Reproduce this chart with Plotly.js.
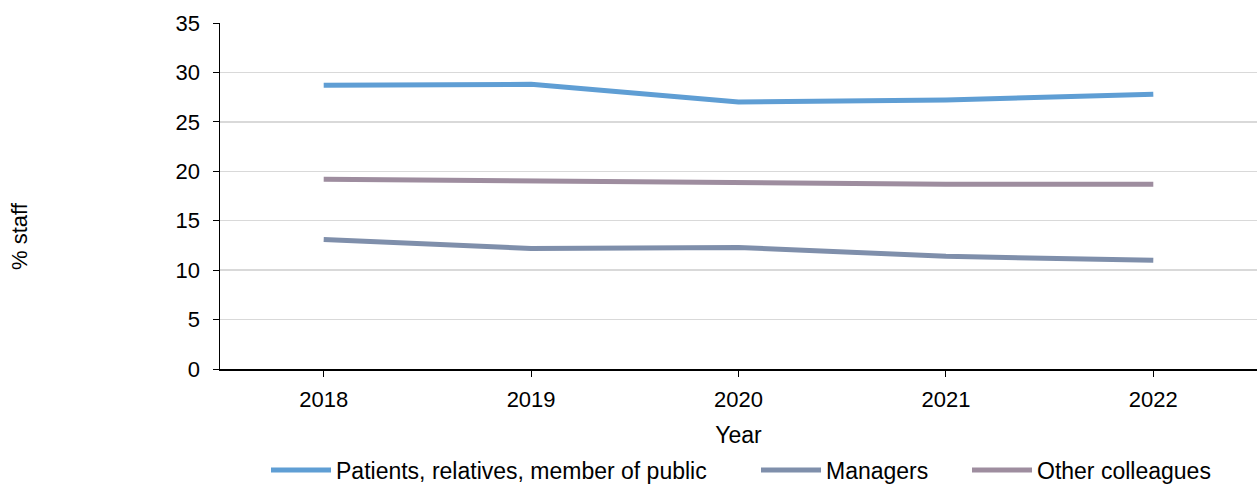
<!DOCTYPE html>
<html>
<head>
<meta charset="utf-8">
<script src="https://cdn.plot.ly/plotly-3.0.1.min.js"></script>
<style>html,body{margin:0;padding:0;background:#fff;}#chart{width:1258px;height:487px;}</style>
</head>
<body>
<div id="chart"></div>
<script>
var years = ["2018", "2019", "2020", "2021", "2022"];
var patients = [28.7, 28.8, 27.0, 27.2, 27.8];
var managers = [13.1, 12.2, 12.3, 11.4, 11.0];
var colleagues = [19.2, 19.0, 18.8, 18.7, 18.7];
var yTicks = [0, 5, 10, 15, 20, 25, 30, 35];

var legendFont = {family: "Liberation Sans, Arial, sans-serif", size: 23, color: "#000"};

function tr(name, y, color, lg) {
  return {x: years, y: y, name: name, type: "scatter", mode: "lines", legend: lg,
    line: {color: color, width: 5, shape: "linear"}};
}

var data = [
  tr("Patients, relatives, member of public", patients, "#5f9ed4", "legend"),
  tr("Managers", managers, "#7f8fab", "legend2"),
  tr("Other colleagues", colleagues, "#9e8d9f", "legend3")
];

function leg(px) {
  return {orientation: "h", xref: "container", x: px / 1258, xanchor: "left",
    yref: "container", y: 17 / 487, yanchor: "middle", font: legendFont, itemwidth: 60,
    bgcolor: "rgba(0,0,0,0)"};
}

var layout = {
  width: 1258, height: 487,
  margin: {l: 220, r: 1, t: 23, b: 118},
  paper_bgcolor: "#fff", plot_bgcolor: "#fff",
  font: {family: "Liberation Sans, Arial, sans-serif", size: 22, color: "#000"},
  showlegend: true,
  legend: leg(266),
  legend2: leg(756),
  legend3: leg(967),
  xaxis: {type: "category", range: [-0.5, 4.5], showgrid: false, automargin: false,
    showline: true, linecolor: "#000", linewidth: 1.5,
    ticks: "outside", ticklen: 6, tickcolor: "#000", ticklabelstandoff: 4,
    tickfont: {size: 22}, zeroline: false,
    title: {text: "Year", font: legendFont, standoff: 28}},
  yaxis: {range: [0, 35], tickvals: yTicks, showgrid: true, gridcolor: "#d9d9d9", gridwidth: 1.5,
    showline: true, linecolor: "#000", linewidth: 1.5, automargin: false,
    ticks: "outside", ticklen: 6, tickcolor: "#000", zeroline: false, ticklabelstandoff: 8,
    tickfont: {size: 22}},
  annotations: [{text: "% staff", xref: "paper", yref: "paper", x: (20 - 220) / 1037, y: (369 - 236) / 346,
    xanchor: "center", yanchor: "middle", textangle: -90, showarrow: false,
    font: {size: 22, color: "#000"}}]
};

Plotly.newPlot("chart", data, layout, {displayModeBar: false, staticPlot: true});
</script>
</body>
</html>
